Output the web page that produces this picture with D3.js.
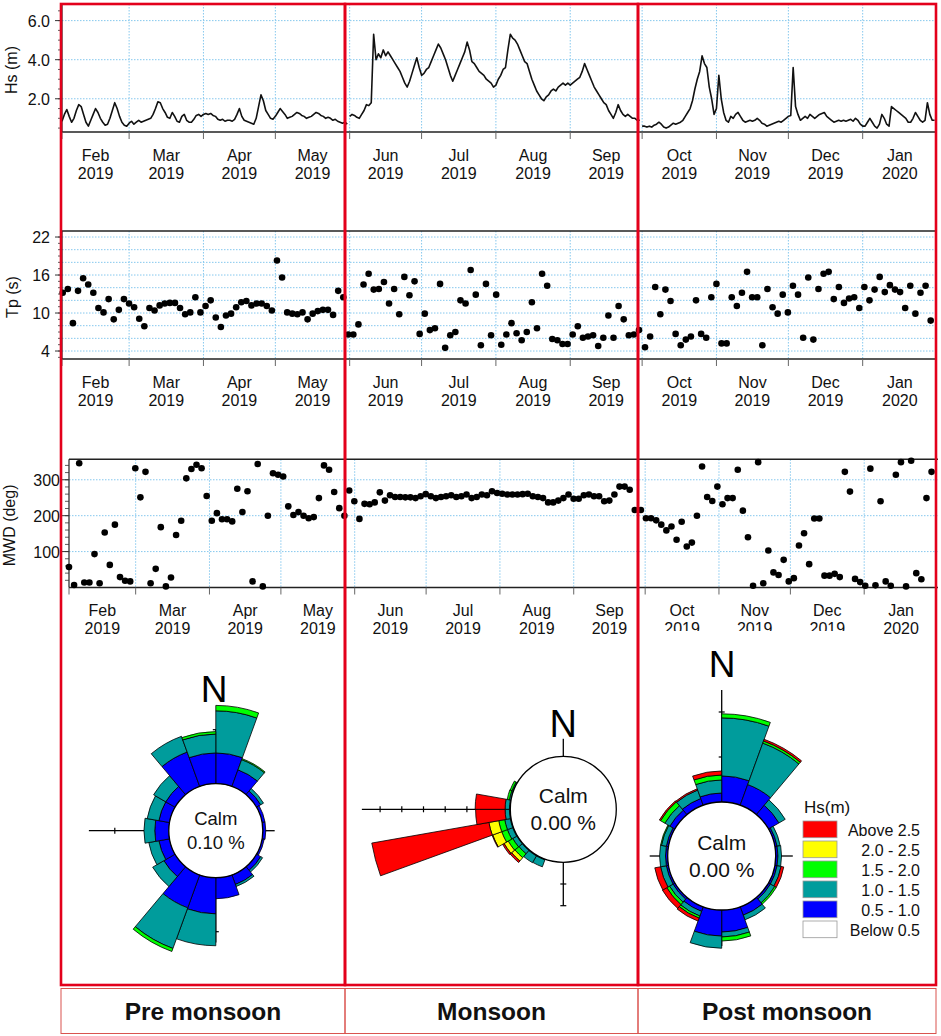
<!DOCTYPE html>
<html>
<head>
<meta charset="utf-8">
<script src="https://cdn.jsdelivr.net/npm/d3@7"></script>
<style>
  body { margin: 0; background: #fff; }
  svg { display: block; font-family: Arial, "Liberation Sans", sans-serif; }
</style>
</head>
<body>
<div id="chart"></div>
<script>
// ---- data ----
var seasons = ["Pre monsoon", "Monsoon", "Post monsoon"];
var monthLabels = [["Feb","2019"],["Mar","2019"],["Apr","2019"],["May","2019"],["Jun","2019"],["Jul","2019"],
                   ["Aug","2019"],["Sep","2019"],["Oct","2019"],["Nov","2019"],["Dec","2019"],["Jan","2020"]];

// daily Hs (m), starting 1 Feb, 1 Jun and 1 Oct 2019
var hsPre = [0.85,1.2,1.45,1.1,0.8,1.0,1.4,1.7,1.6,1.2, 0.8,0.6,0.9,1.2,1.5,1.3,1.0,0.8,0.65,0.7,
  1.0,1.4,1.8,1.5,1.1,0.8,0.65,0.6,0.75,0.85, 0.7,0.8,0.9,0.8,0.85,0.9,0.95,1.0,1.2,1.5,
  1.85,1.8,1.5,1.3,1.05,1.0,1.3,1.1,0.85,0.8, 1.1,1.2,0.9,0.8,0.8,0.95,1.15,1.2,1.1,1.2,
  1.25,1.2,1.25,1.15,1.1,0.95,0.9,0.95,0.85,0.9, 0.9,0.85,0.95,1.2,1.5,1.1,0.9,0.85,0.8,0.75,
  0.7,1.0,1.6,2.2,1.9,1.4,1.2,1.0,0.95,1.1, 1.3,1.5,1.35,1.2,1.0,1.05,1.1,1.2,1.3,1.25,
  1.15,1.1,1.0,1.05,1.1,1.2,1.3,1.25,1.15,1.1, 1.0,1.05,1.0,0.9,0.95,0.85,0.8,0.75,0.8,0.7];
var hsMon = [1.1,1.2,1.15,1.05,1.0,1.2,1.4,1.7,1.65,1.8, 5.3,4.0,4.3,4.1,4.5,4.2,4.4,4.2,4.0,3.8,
  3.6,3.4,3.1,2.8,2.6,2.9,3.3,3.7,4.1,3.6, 3.2,3.3,3.5,3.6,3.9,4.2,4.5,4.8,4.6,4.3,
  4.0,3.6,3.2,2.9,3.2,3.5,3.8,4.1,4.4,4.9, 4.5,3.9,3.8,3.6,3.4,3.3,3.2,3.0,2.9,2.8,
  2.6,2.7,3.0,3.2,3.5,3.6,4.5,5.3,5.1,5.0, 4.8,4.5,4.2,3.9,3.8,3.4,3.0,2.7,2.4,2.2,
  2.0,1.9,2.1,2.2,2.4,2.5,2.4,2.6,2.7,2.8, 2.7,2.8,2.7,2.8,2.9,3.0,3.1,3.4,3.8,3.5,
  3.2,2.9,2.6,2.4,2.2,2.0,1.8,1.7,1.4,1.2, 1.0,1.3,1.7,1.4,1.2,1.1,1.2,1.1,1.0,1.0, 0.9,0.9];
var hsPost = [0.6,0.6,0.55,0.6,0.55,0.65,0.7,0.8,0.7,0.55, 0.5,0.55,0.65,0.75,0.7,0.75,0.8,0.9,1.1,1.3,
  1.5,1.9,2.5,3.0,3.4,4.2,3.8,3.6,2.6,2.0, 1.2,1.5,3.2,2.0,1.3,0.9,0.8,1.1,1.0,1.2,
  1.3,1.1,0.9,0.8,0.85,0.9,0.85,0.9,1.0,0.9, 0.75,0.7,0.6,0.65,0.7,0.75,0.8,0.85,0.8,0.9,
  1.0,1.1,1.15,3.6,1.6,1.2,0.9,1.0,1.1,1.0, 1.2,1.1,1.0,1.1,1.2,1.25,1.3,1.1,1.0,0.9,
  0.8,0.85,0.9,0.85,0.9,0.85,0.9,0.95,0.85,1.0, 0.9,0.7,0.6,0.6,0.8,1.0,0.8,0.6,0.5,0.7,
  1.2,1.0,0.7,0.6,1.6,1.5,1.4,1.3,1.2,1.1, 1.0,0.8,0.8,1.0,1.3,1.1,0.9,0.8,0.9,1.8, 1.2,0.9,0.9];

// Tp (s), one value about every 2.1 days
var tpPre = [13.2,13.8,8.4,13.5,15.5,14.5,13.2,10.8,10.1,12.2, 9.0,10.5,12.2,11.5,10.9,9.1,7.9,10.8,10.4,11.2,
  11.5,11.6,11.6,10.8,9.8,10.1,12.5,10.1,11.1,12.0, 9.3,7.8,9.6,9.9,10.9,11.7,11.9,11.2,11.5,11.5,
  11.1,10.4,18.3,15.6,10.1,9.9,9.8,10.1,9.0,9.9, 10.3,10.5,10.5,9.7,13.5,12.5];
var tpMon = [6.6,6.6,8.2,14.5,16.2,13.7,13.8,14.9,11.5,13.8, 9.8,15.7,12.8,15.0,6.7,9.9,7.3,7.6,14.6,4.5,
  6.5,7.0,12.0,11.5,16.8,12.9,4.9,14.6,6.5,12.9, 5.0,6.6,8.4,6.8,5.7,7.0,11.7,7.6,16.2,14.3,
  5.9,5.7,5.1,5.1,6.6,7.9,6.1,6.3,6.5,4.8, 6.1,9.6,6.1,11.1,9.0,6.5,6.6,7.3];
var tpPost = [4.6,6.3,14.1,9.8,13.7,11.9,6.7,4.9,5.8,6.3, 12.0,6.7,6.1,12.5,14.6,5.2,5.2,12.5,11.1,13.2,
  16.5,12.5,12.5,4.9,13.8,10.9,9.9,12.9,10.1,14.3, 12.9,6.1,15.6,5.8,13.8,16.2,16.5,12.2,14.1,11.6,
  12.3,12.5,10.8,14.1,12.0,13.7,15.7,13.3,14.4,13.7, 13.3,10.8,14.3,9.9,13.2,14.3,8.8];

// MWD (deg)
var mwdPre = [57,7,346,14,14,93,12,153,63,175, 29,19,17,332,251,322,12,52,168,3,
  28,146,186,304,330,342,332,255,186,207, 190,190,184,275,210,268,17,344,3,200,
  318,314,309,226,202,210,200,193,196,249, 340,328,266,221,200];
var mwdMon = [270,240,191,233,232,237,265,242,257,252, 252,251,251,249,254,260,254,249,252,254,
  257,252,254,259,249,252,259,257,268,263, 261,259,259,259,260,261,254,252,249,237,
  237,242,249,259,247,247,257,259,254,254, 240,242,259,281,281,272,216];
var mwdPost = [216,193,193,187,175,159,170,133,183,114, 125,200,337,252,241,281,232,249,249,328,
  214,140,5,349,12,103,42,35,77,17, 26,117,151,65,192,192,33,33,38,29,
  322,267,24,15,5,331,6,240,17,5, 314,349,3,353,40,23,249,322];

// sample start (days after 1 Feb 2019) and spacing of the Tp / MWD series
var tpStart = [0.3, 119.4, 243.2], tpStep = 2.128;
var mwdStart = [0.0, 117.7, 240.2], mwdStep = 2.142;

// wave roses: % per Hs class in each direction bin (clockwise from N)
var roseClasses = ["Below 0.5", "0.5 - 1.0", "1.0 - 1.5", "1.5 - 2.0", "2.0 - 2.5", "Above 2.5"];
var roseColors = ["#ffffff", "#0000ff", "#009c9c", "#00ff00", "#ffff00", "#ff0000"];
var calmText = ["0.10 %", "0.00 %", "0.00 %"];
// 18 bins of 20 deg
var rosePre = [[0,5.7,7.8,1.0,0,0],[0,3.3,2.0,0.2,0,0],[0,0.9,0.6,0,0,0],[0,0.55,0,0,0,0],
  [0,0.55,0,0,0,0],[0,0.4,0,0,0,0],[0,0.9,0.4,0,0,0],[0,1.9,0.4,0,0,0],[0,3.9,0,0,0,0],
  [0,6.7,5.9,0,0,0],[0,6.5,8.0,0.6,0,0],[0,2.4,2.4,0,0,0],[0,2.0,1.9,0,0,0],[0,2.6,2.0,0,0,0],
  [0,2.0,2.2,0,0,0],[0,2.0,2.6,0,0,0],[0,6.8,3.1,0,0,0],[0,5.7,3.5,0.45,0,0]];
// 36 bins of 10 deg (only the south-west quadrant is populated)
var roseMon = [[0,0,0,0,0,0],[0,0,0,0,0,0],[0,0,0,0,0,0],[0,0,0,0,0,0],[0,0,0,0,0,0],[0,0,0,0,0,0],
  [0,0,0,0,0,0],[0,0,0,0,0,0],[0,0,0,0,0,0],[0,0,0,0,0,0],[0,0,0,0,0,0],[0,0,0,0,0,0],
  [0,0,0,0,0,0],[0,0,0,0,0,0],[0,0,0,0,0,0],[0,0,0,0,0,0],[0,0,0,0,0,0],[0,0,0,0,0,0],
  [0,0,0,0,0,0],[0,0,0,0,0,0],[0,0.4,3.4,0,0,0],[0,0.4,3.6,0,0,0],[0,0.3,2.0,2.4,2.0,0.9],[0,0.3,2.2,2.4,2.2,0.8],
  [0,0.4,2.6,2.8,4.4,0.3],[0,0.4,2.6,2.8,4.6,54.8],[0,0.4,2.0,0,0,13.6],[0,0.4,2.0,0,0,13.8],
  [0,0,0.8,1.0,0,0],[0,0,0.7,0.9,0,0],[0,0,0,0,0,0],[0,0,0,0,0,0],
  [0,0,0,0,0,0],[0,0,0,0,0,0],[0,0,0,0,0,0],[0,0,0,0,0,0]];
// 18 bins of 20 deg
var rosePost = [[0,5.8,12.9,0.9,0,0],[0,4.9,9.8,0.5,0,0.4],[0,2.7,1.6,0,0,0],[0,0.5,0.7,0,0,0],
  [0,0.5,0.8,0,0,0],[0,0.5,0.9,0,0,0.6],[0,0.5,1.1,0.4,0,0],[0,2.0,1.1,0,0,0],[0,4.9,1.1,0.9,0,0],
  [0,5.8,2.7,0,0,0],[0,1.1,1.1,0.5,0,0.7],[0,0.5,0.9,0.7,0,1.1],[0,0.5,1.3,0,0,1.3],[0,0.5,1.3,0,0,0],
  [0,0.5,1.1,0.2,0,0],[0,1.3,1.3,1.1,0,0.3],[0,1.6,2.0,0,0,0.3],[0,2.0,2.9,1.1,0,0.9]];

// ---- drawing ----
var W = 941, H = 1036;
var svg = d3.select("#chart").append("svg").attr("width", W).attr("height", H);

var t0 = new Date(Date.UTC(2019, 1, 1)), t1 = new Date(Date.UTC(2020, 1, 1));
function dayDate(d) { return new Date(t0.getTime() + d * 864e5); }
var months = d3.utcMonths(t0, t1);   // month starts

var gridCol = "#86c8ee";

// the bottom row of post-monsoon month labels is cut off in the original
svg.append("clipPath").attr("id", "cutPost").append("rect")
  .attr("x", 638).attr("y", 580).attr("width", 240).attr("height", 51);

var panels = [
  { title: "Hs (m)", top: 4, bottom: 132, x0: 62, x1: 937, dom: [0.3, 6.85],
    ticks: [2, 4, 6], fmt: d3.format(".1f"), grid: [2, 4, 6], minor: d3.range(0.5, 6.85, 0.5),
    titleX: 11, labEnd: 50 },
  { title: "Tp (s)", top: 231, bottom: 359, x0: 62, x1: 937, dom: [2.74, 22.95],
    ticks: [4, 10, 16, 22], fmt: d3.format("d"), grid: d3.range(4, 23, 2), minor: d3.range(3, 23, 1),
    titleX: 12.5, labEnd: 50 },
  { title: "MWD (deg)", top: 459.3, bottom: 587.5, x0: 69, x1: 938, dom: [0, 357],
    ticks: [100, 200, 300], fmt: d3.format("d"), grid: [100, 200, 300], minor: d3.range(20, 357, 20),
    titleX: 9, labEnd: 60, cut: true }
];

panels.forEach(function (p) {
  p.x = d3.scaleUtc().domain([t0, t1]).range([p.x0, p.x1]);
  p.y = d3.scaleLinear().domain(p.dom).range([p.bottom, p.top]);
  var g = svg.append("g");
  // grid
  g.selectAll(".hg").data(p.grid).enter().append("line")
    .attr("x1", p.x0).attr("x2", p.x1).attr("y1", p.y).attr("y2", p.y)
    .attr("stroke", gridCol).attr("stroke-width", 1).attr("stroke-dasharray", "1.5,1.5");
  g.selectAll(".vg").data(months.slice(1)).enter().append("line")
    .attr("x1", p.x).attr("x2", p.x).attr("y1", p.top).attr("y2", p.bottom)
    .attr("stroke", gridCol).attr("stroke-width", 1).attr("stroke-dasharray", "1.5,1.5");
  // frame
  g.append("line").attr("x1", p.x0).attr("x2", p.x1).attr("y1", p.top).attr("y2", p.top)
    .attr("stroke", "#222").attr("stroke-width", 1.6);
  g.append("line").attr("x1", p.x0).attr("x2", p.x1).attr("y1", p.bottom).attr("y2", p.bottom)
    .attr("stroke", "#222").attr("stroke-width", 1.6);
  g.append("line").attr("x1", p.x0).attr("x2", p.x0).attr("y1", p.top).attr("y2", p.bottom)
    .attr("stroke", "#222").attr("stroke-width", 1.2);
  // y ticks
  g.selectAll(".mt").data(p.minor).enter().append("line")
    .attr("x1", p.x0 - 4).attr("x2", p.x0).attr("y1", p.y).attr("y2", p.y)
    .attr("stroke", "#333").attr("stroke-width", 0.8);
  g.selectAll(".yt").data(p.ticks).enter().append("line")
    .attr("x1", p.x0 - 7).attr("x2", p.x0).attr("y1", p.y).attr("y2", p.y)
    .attr("stroke", "#333").attr("stroke-width", 1);
  g.selectAll(".yl").data(p.ticks).enter().append("text")
    .attr("x", p.labEnd).attr("y", function (d) { return p.y(d) + 6; })
    .attr("text-anchor", "end").attr("font-size", 16).attr("fill", "#111")
    .text(p.fmt);
  g.append("text").attr("transform", "translate(" + p.titleX + "," + ((p.top + p.bottom) / 2 + 2) + ") rotate(-90)")
    .attr("text-anchor", "middle").attr("dominant-baseline", "central")
    .attr("font-size", 16).attr("fill", "#111").text(p.title);
  // x ticks and month labels
  g.selectAll(".xt").data(months).enter().append("line")
    .attr("x1", p.x).attr("x2", p.x).attr("y1", p.bottom).attr("y2", p.bottom + 7)
    .attr("stroke", "#666").attr("stroke-width", 1);
  function mid(m) { return p.x(new Date((m.getTime() + d3.utcMonth.offset(m, 1).getTime()) / 2)); }
  var lab = g.selectAll(".xl").data(months).enter().append("text")
    .attr("text-anchor", "middle").attr("font-size", 16).attr("fill", "#111")
    .attr("clip-path", function (m, i) { return p.cut && i >= 8 && i <= 10 ? "url(#cutPost)" : null; });
  lab.append("tspan").attr("x", mid).attr("y", p.bottom + 28.5)
    .text(function (m, i) { return monthLabels[i][0]; });
  lab.append("tspan").attr("x", mid).attr("y", p.bottom + 46.5)
    .text(function (m, i) { return monthLabels[i][1]; });
  p.g = g;
});

// Hs lines
var hsP = panels[0];
[[hsPre, 0], [hsMon, 120], [hsPost, 242]].forEach(function (s) {
  var line = d3.line().x(function (v, i) { return hsP.x(dayDate(s[1] + i)); }).y(function (v) { return hsP.y(v); });
  hsP.g.append("path").datum(s[0]).attr("d", line)
    .attr("fill", "none").attr("stroke", "#111").attr("stroke-width", 1.6).attr("stroke-linejoin", "round");
});

// Tp and MWD dots
function dots(p, series, starts, step) {
  series.forEach(function (vals, k) {
    p.g.selectAll(null).data(vals).enter().append("circle")
      .attr("cx", function (v, i) { return p.x(dayDate(starts[k] + i * step)); })
      .attr("cy", function (v) { return p.y(v); })
      .attr("r", 3.3).attr("fill", "#000");
  });
}
dots(panels[1], [tpPre, tpMon, tpPost], tpStart, tpStep);
dots(panels[2], [mwdPre, mwdMon, mwdPost], mwdStart, mwdStep);

// ---- wave roses ----
var roses = [
  { data: rosePre, cx: 215.8, cy: 830.7, rc: 47, k: 5.4, step: 10, axes: [10, 2.2, 12, 14.8],
    calmSize: 18.5, nx: 214, ny: 701.7, nSize: 37 },
  { data: roseMon, cx: 563.3, cy: 809.3, rc: 53, k: 2.17, step: 10, axes: [8.3, 0, 20, 68.4],
    calmSize: 21, nx: 563.3, ny: 736.7, nSize: 38 },
  { data: rosePost, cx: 721.7, cy: 856, rc: 54, k: 4.5, step: 10, axes: [24.9, 3.8, 8, 4],
    calmSize: 21, nx: 722, ny: 676.7, nSize: 37 }
];
var arc = d3.arc();

roses.forEach(function (R, ri) {
  var g = svg.append("g").attr("transform", "translate(" + R.cx + "," + R.cy + ")");
  var rad = d3.scaleLinear().domain([0, 1]).range([R.rc, R.rc + R.k]);
  var binW = 2 * Math.PI / R.data.length;
  // axes with ticks
  [[0, -1], [1, 0], [0, 1], [-1, 0]].forEach(function (dir, j) {
    var len = R.axes[j];
    if (len <= 0) return;
    g.append("line").attr("x1", dir[0] * R.rc).attr("y1", dir[1] * R.rc)
      .attr("x2", dir[0] * rad(len)).attr("y2", dir[1] * rad(len))
      .attr("stroke", "#000").attr("stroke-width", 1.3);
    d3.range(R.step, len + 0.01, R.step).forEach(function (t) {
      var r = rad(t);
      g.append("line")
        .attr("x1", dir[0] * r - dir[1] * 3).attr("y1", dir[1] * r - dir[0] * 3)
        .attr("x2", dir[0] * r + dir[1] * 3).attr("y2", dir[1] * r + dir[0] * 3)
        .attr("stroke", "#000").attr("stroke-width", 1.2);
    });
  });
  // stacked sectors
  R.data.forEach(function (row, i) {
    var cum = 0;
    row.forEach(function (v, c) {
      if (v <= 0) return;
      g.append("path")
        .attr("d", arc({ innerRadius: rad(cum), outerRadius: rad(cum + v), startAngle: i * binW, endAngle: (i + 1) * binW }))
        .attr("fill", roseColors[c]).attr("stroke", "#000").attr("stroke-width", 0.8);
      cum += v;
    });
  });
  g.append("circle").attr("r", R.rc).attr("fill", "#fff").attr("stroke", "#000").attr("stroke-width", 1.3);
  g.append("text").attr("y", -R.calmSize * 0.05 - 5).attr("text-anchor", "middle")
    .attr("font-size", R.calmSize).attr("fill", "#111").text("Calm");
  g.append("text").attr("y", R.calmSize * 0.95 + 1).attr("text-anchor", "middle")
    .attr("font-size", R.calmSize).attr("fill", "#111").text(calmText[ri]);
  // N label on a white patch
  var nW = R.nSize * 0.74, nH = R.nSize * 0.78;
  svg.append("rect").attr("x", R.nx - nW / 2 - 2).attr("y", R.ny - nH).attr("width", nW + 4).attr("height", nH + 2)
    .attr("fill", "#fff");
  svg.append("text").attr("x", R.nx).attr("y", R.ny).attr("text-anchor", "middle")
    .attr("font-size", R.nSize).attr("fill", "#000").text("N");
});

// legend
var leg = svg.append("g").attr("transform", "translate(803,821)");
leg.append("text").attr("x", 1).attr("y", -8).attr("font-size", 17).attr("fill", "#111").text("Hs(m)");
var legOrder = roseClasses.map(function (c, i) { return i; }).reverse();
legOrder.forEach(function (c, j) {
  leg.append("rect").attr("x", 0).attr("y", j * 20).attr("width", 34).attr("height", 16.7)
    .attr("fill", roseColors[c]).attr("stroke", "#999").attr("stroke-width", 0.8);
  leg.append("text").attr("x", 117).attr("y", j * 20 + 15).attr("text-anchor", "end")
    .attr("font-size", 16).attr("fill", "#111").text(roseClasses[c]);
});

// season frames
var colX = [61, 345, 638, 936];
seasons.forEach(function (s, i) {
  svg.append("rect").attr("x", colX[i]).attr("y", 4).attr("width", colX[i + 1] - colX[i]).attr("height", 981)
    .attr("fill", "none").attr("stroke", "#e3001b").attr("stroke-width", 2.6);
  svg.append("rect").attr("x", colX[i]).attr("y", 988.5).attr("width", colX[i + 1] - colX[i]).attr("height", 45)
    .attr("fill", "none").attr("stroke", "#d9534f").attr("stroke-width", 1);
  svg.append("text").attr("x", (colX[i] + colX[i + 1]) / 2).attr("y", 1020)
    .attr("text-anchor", "middle").attr("font-size", 24.5).attr("font-weight", "bold").attr("fill", "#111").text(s);
});
</script>
</body>
</html>
